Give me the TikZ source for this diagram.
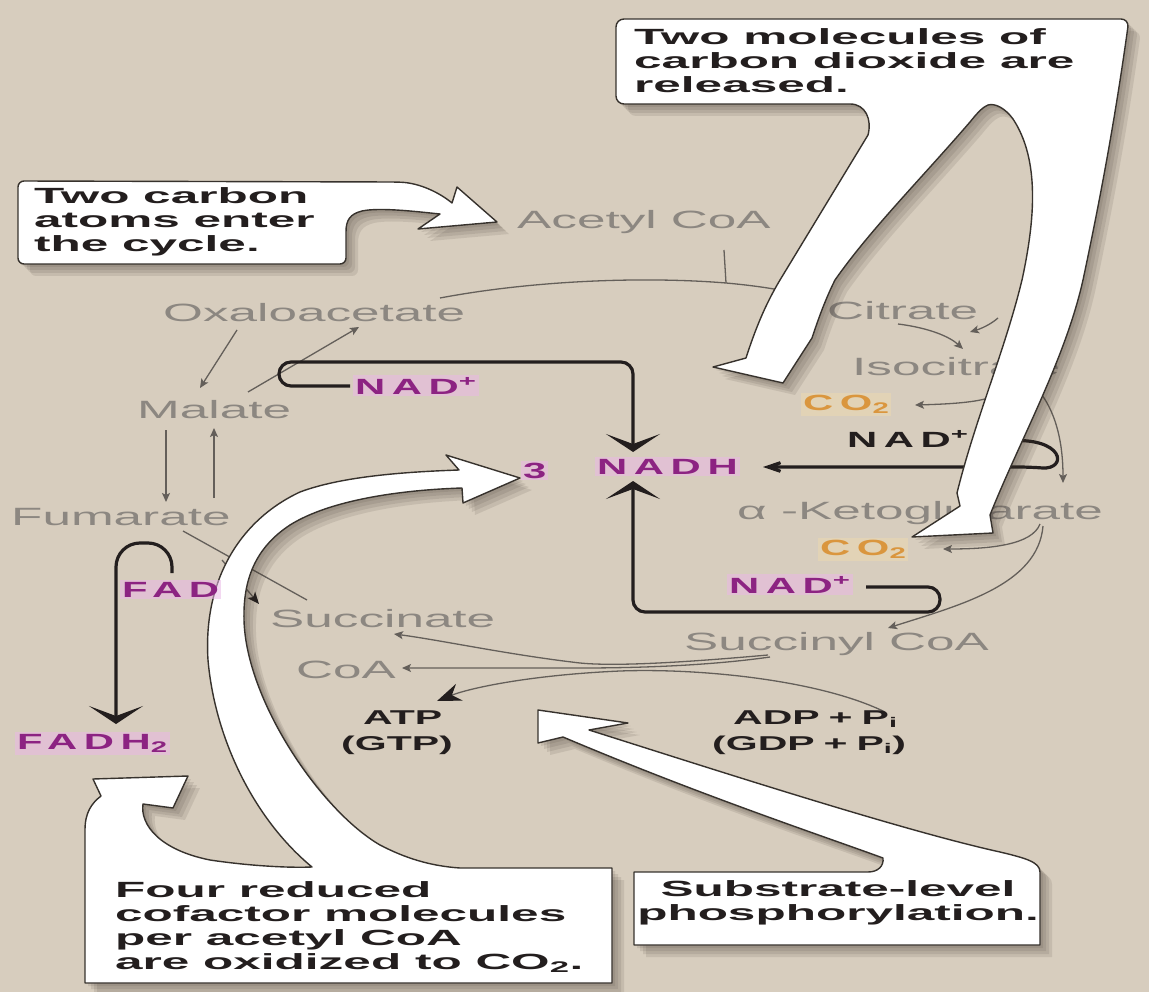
\documentclass[tikz,border=0pt]{standalone}
\usepackage{fontspec}
\setmainfont{Liberation Sans}
\newfontfamily\lblfont[FakeStretch=2.05]{Liberation Sans}
\newfontfamily\callfont[FakeStretch=2.25]{Liberation Sans}
\newfontfamily\chemfont[FakeStretch=1.9,LetterSpace=30]{Liberation Sans}
\newfontfamily\atpfont[FakeStretch=2.05]{Liberation Sans}
\usetikzlibrary{arrows.meta}
\definecolor{bgtan}{RGB}{215,205,190}
\definecolor{lblgray}{RGB}{140,135,129}
\definecolor{thin}{RGB}{100,95,90}
\definecolor{ink}{RGB}{35,30,30}
\definecolor{mag}{RGB}{140,35,130}
\definecolor{glow}{RGB}{234,184,230}
\definecolor{orng}{RGB}{218,150,62}
\definecolor{oglow}{RGB}{234,216,178}
\definecolor{edge}{RGB}{55,50,45}
\definecolor{shade}{RGB}{60,50,40}
\tikzset{
  lbl/.style={font=\lblfont\fontsize{25}{25}\selectfont, text=lblgray, inner sep=0pt, anchor=base west},
  call/.style={font=\callfont\bfseries\fontsize{22}{24}\selectfont, text=ink, align=left, inner sep=0pt},
  chem/.style={font=\chemfont\bfseries\fontsize{22}{22}\selectfont, text=mag, fill=glow, fill opacity=.55, text opacity=1, inner sep=2pt, anchor=base west},
  chemk/.style={font=\chemfont\bfseries\fontsize{22}{22}\selectfont, text=ink, inner sep=2pt, anchor=base west},
  cotwo/.style={font=\chemfont\bfseries\fontsize{22}{22}\selectfont, text=orng, fill=oglow, fill opacity=.6, text opacity=1, inner sep=2pt, anchor=base west},
  atpl/.style={font=\atpfont\bfseries\fontsize{20}{20}\selectfont, text=ink, inner sep=0pt, anchor=base west},
  rx/.style={draw=thin, line width=1.3pt, -{Stealth[length=9pt,width=8pt,inset=2pt]}},
  rxn/.style={draw=thin, line width=1.3pt},
  rxk/.style={draw=thin, line width=1.3pt, -{Stealth[length=12pt,width=10pt,inset=3pt,color=ink]}},
  rxatp/.style={draw=thin, line width=1.3pt, -{Stealth[length=24pt,width=18pt,inset=8pt,color=ink]}},
  nadline/.style={draw=ink, line width=3.2pt, rounded corners=12pt},
  bigtip/.style={-{Stealth[length=18pt,width=54pt,inset=10pt]}},
  sidetip/.style={-{Stealth[length=38pt,width=26pt,inset=26pt]}},
  white shape/.style={fill=white, draw=edge, line width=1.4pt, line join=round},
  shadow layer/.style={fill=shade, opacity=.11, draw=none},
  calloneP/.style={insert path={(18,200) [rounded corners=6pt] -- (18,181) -- (395,182) [sharp corners]
     .. controls (420,183) and (440,193) .. (452,203) -- (457,187) -- (497,222) -- (418,229) -- (440,214)
     .. controls (420,212) and (380,207) .. (362,211) .. controls (350,214) and (346,220) .. (346,232)
     [rounded corners=6pt] -- (346,264) -- (18,264) -- (18,230) [sharp corners] -- cycle}},
  calltwoP/.style={insert path={(616,60) [rounded corners=8pt] -- (616,19) -- (1129,19) [sharp corners]
     .. controls (1115,120) and (1100,200) .. (1083,280) .. controls (1065,360) and (1020,440) .. (990,515)
     -- (993,533) -- (912,537) -- (960,506) -- (957,493)
     .. controls (975,420) and (1005,350) .. (1022,280) .. controls (1035,220) and (1040,160) .. (1013,119)
     .. controls (1005,108) and (995,103) .. (988,105) .. controls (983,107) and (978,112) .. (970,122)
     .. controls (920,180) and (870,230) .. (835,280) .. controls (825,300) and (818,320) .. (812,338)
     -- (783,383) -- (713,367) -- (746,358) .. controls (755,330) and (765,305) .. (780,280)
     -- (868,135) .. controls (872,120) and (866,104) .. (850,104) [rounded corners=8pt] -- (616,104) -- (616,80) [sharp corners] -- cycle}},
  callthreeP/.style={insert path={(85,983) -- (85,830) .. controls (85,812) and (92,803) .. (101,796)
     -- (93,779) -- (188,776) -- (173,808) -- (143,804)
     .. controls (140,825) and (160,850) .. (210,860) .. controls (250,866) and (290,868) .. (312,867)
     .. controls (255,820) and (215,740) .. (208,660) .. controls (203,580) and (240,520) .. (300,492)
     .. controls (340,477) and (400,472) .. (459,470) -- (446,455) -- (520,478) -- (463,503) -- (462,488)
     .. controls (400,490) and (330,500) .. (290,525) .. controls (255,548) and (243,580) .. (244,620)
     .. controls (246,700) and (320,810) .. (380,845) .. controls (405,858) and (430,866) .. (460,868)
     -- (612,868) -- (612,983) -- cycle}},
  callfourP/.style={insert path={(634,945) -- (634,872) -- (868,872) .. controls (878,872) and (884,866) .. (883,858)
     .. controls (820,835) and (700,795) .. (563,737) -- (538,743) -- (538,710) -- (628,723) -- (589,730)
     .. controls (700,765) and (900,830) .. (1000,852) .. controls (1025,858) and (1040,862) .. (1040,872)
     -- (1040,945) -- cycle}}
}
\begin{document}
\begin{tikzpicture}[x=1pt,y=-1pt]
\useasboundingbox (0,0) rectangle (1149,992);
\fill[bgtan] (0,0) rectangle (1149,992);

% ---------- metabolite labels ----------
\node[lbl] (acetyl) at (517,229) {Acetyl CoA};
\node[lbl] (oxa) at (163,322) {Oxaloacetate};
\node[lbl] (cit) at (827,320) {Citrate};
\node[lbl] (iso) at (852,375) {Isocitrate};
\node[lbl] (mal) at (137,418) {Malate};
\node[lbl] (fum) at (11,525) {Fumarate};
\node[lbl] (akg) at (737,519) {α -Ketoglutarate};
\node[lbl] (suc) at (270,627) {Succinate};
\node[lbl] (sca) at (684,650) {Succinyl CoA};
\node[lbl] (coa) at (296,678) {CoA};

% ---------- connector end points ----------
\coordinate (acS) at (724,250); \coordinate (acJ) at (726,283);
\coordinate (oxR) at (440,298); \coordinate (citL) at (826,303);
\coordinate (oxD) at (237,330); \coordinate (malU) at (200,388);
\coordinate (malR) at (248,392); \coordinate (oxB) at (359,327);
\coordinate (malD) at (166,430); \coordinate (fumU) at (166,502);
\coordinate (fumR) at (214,498); \coordinate (malB) at (214,428);
\coordinate (sucL) at (307,600); \coordinate (fumB) at (183,531);
\coordinate (fadA) at (222,560); \coordinate (fadB) at (259,604);
\coordinate (citB) at (898,324); \coordinate (isoT) at (963,349);
\coordinate (citR) at (998,318); \coordinate (isoT2) at (970,332);
\coordinate (isoR) at (1012,372); \coordinate (coA) at (915,405);
\coordinate (isoR2) at (1024,376); \coordinate (akgT) at (1063,483);
\coordinate (akgR) at (1040,524); \coordinate (coB) at (943,549);
\coordinate (akgR2) at (1043,526); \coordinate (scaT) at (888,628);
\coordinate (scaL) at (768,655); \coordinate (sucR) at (394,634);
\coordinate (scaL2) at (770,657); \coordinate (coaR) at (402,668);
\coordinate (adpL) at (885,712); \coordinate (atpR) at (437,701);

% ---------- thin reaction arrows ----------
\draw[rxn] (acS) -- (acJ);
\draw[rx] (oxR) .. controls (530,281) and (640,276) .. (acJ) .. controls (770,287) and (800,293) .. (citL);
\draw[rx] (oxD) -- (malU);
\draw[rx] (malR) -- (oxB);
\draw[rx] (malD) -- (fumU);
\draw[rx] (fumR) -- (malB);
\draw[rxn] (sucL) -- (fumB);
\draw[rxk] (fadA) -- (fadB);
\draw[rx] (citB) .. controls (930,328) and (950,337) .. (isoT);
\draw[rx] (citR) .. controls (990,325) and (980,329) .. (isoT2);
\draw[rx] (isoR) .. controls (1010,396) and (992,403) .. (coA);
\draw[rx] (isoR2) .. controls (1055,400) and (1063,440) .. (akgT);
\draw[rx] (akgR) .. controls (1032,545) and (990,549) .. (coB);
\draw[rx] (akgR2) .. controls (1038,585) and (960,605) .. (scaT);
\draw[rx] (scaL) .. controls (700,661) and (620,667) .. (580,663) .. controls (510,655) and (440,640) .. (sucR);
\draw[rx] (scaL2) .. controls (700,667) and (620,668) .. (580,668) -- (coaR);
\draw[rxatp] (adpL) .. controls (820,680) and (700,668) .. (620,671) .. controls (530,675) and (470,688) .. (atpR);

% ---------- cofactor labels ----------
\node[chem] (nadT) at (353,394) {NAD\textsuperscript{+}};
\node[chem] (three) at (521,478) {3};
\node[chem] (nadh) at (595,474) {NADH};
\node[chemk] (nadK) at (845,447) {NAD\textsuperscript{+}};
\node[cotwo] (co1) at (801,410) {CO\textsubscript{2}};
\node[cotwo] (co2) at (818,555) {CO\textsubscript{2}};
\node[chem] (nadB) at (727,593) {NAD\textsuperscript{+}};
\node[chem] (fadh) at (15,749) {FADH\textsubscript{2}};
\node[atpl] (atp) at (363,724) {ATP};
\node[atpl] (gtp) at (341,750) {(GTP)};
\node[atpl] (adp) at (733,724) {ADP\hspace{9pt}+\hspace{9pt}P\textsubscript{i}};
\node[atpl] (gdp) at (712,750) {(GDP\hspace{9pt}+\hspace{9pt}P\textsubscript{i})};

% ---------- NAD / FAD loops ----------
\coordinate (nadTw) at (350,386); \coordinate (nadhT) at (633,452);
\coordinate (nadBe) at (866,587); \coordinate (nadhB) at (633,481);
\coordinate (nadKe) at (1006,441); \coordinate (nadhR) at (763,467);
\coordinate (fadT) at (172,573); \coordinate (fadhT) at (116,724);
\draw[nadline, bigtip] (nadTw) -- (279,386) -- (279,362) -- (633,362) -- (nadhT);
\draw[nadline, bigtip] (nadBe) -- (940,587) -- (940,612) -- (633,612) -- (nadhB);
\draw[nadline, sidetip] (nadKe) .. controls (1065,436) and (1068,470) .. (1030,467) -- (nadhR);
\draw[nadline, rounded corners=24pt, bigtip] (fadT) -- (172,543) -- (116,543) -- (fadhT);

% ---------- callout shapes with shadows ----------
\foreach \s in {3,6,9,12} {
  \path[shadow layer, shift={(\s,\s)}, calloneP];
  \path[shadow layer, shift={(\s,\s)}, calltwoP];
  \path[shadow layer, shift={(\s,\s)}, callthreeP];
  \path[shadow layer, shift={(\s,\s)}, callfourP];
}
\path[white shape, calloneP];
\path[white shape, calltwoP];
\path[white shape, callthreeP];
\path[white shape, callfourP];

\node[chem] (fad) at (120,597) {FAD};

% ---------- callout texts ----------
\node[call, anchor=north west] (t1) at (34,187) {Two carbon\\atoms enter\\the cycle.};
\node[call, anchor=north west] (t2) at (634,28) {Two molecules of\\carbon dioxide are\\released.};
\node[call, anchor=north west] (t3) at (115,881) {Four reduced\\cofactor molecules\\per acetyl CoA\\are oxidized to CO\textsubscript{2}.};
\node[call, anchor=north, align=center] (t4) at (838,880) {Substrate-level\\phosphorylation.};
\end{tikzpicture}
\end{document}
